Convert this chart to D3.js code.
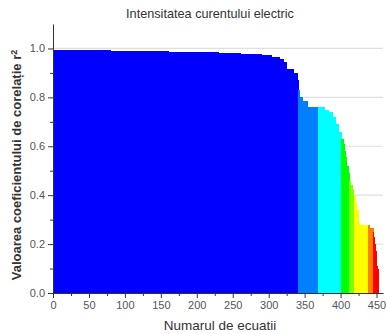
<!DOCTYPE html>
<html>
<head>
<meta charset="utf-8">
<script src="https://cdn.jsdelivr.net/npm/d3@7"></script>
<style>
  body { margin: 0; background: #fff; }
  text { font-family: "Liberation Sans", Arial, sans-serif; }
</style>
</head>
<body>
<div id="chart"></div>
<script>
// r^2 values, as runs of equal value (value, how many equations)
var runValues = [0.995, 0.993, 0.991, 0.989, 0.987, 0.985, 0.982, 0.979, 0.975, 0.965, 0.955, 0.945,
    0.918, 0.898, 0.87, 0.83,
    0.80, 0.785, 0.76,
    0.76, 0.75, 0.74, 0.72, 0.69, 0.66, 0.63,
    0.61, 0.58, 0.556, 0.52, 0.49, 0.46,
    0.44, 0.42, 0.40,
    0.37, 0.34, 0.30, 0.285, 0.278,
    0.265, 0.25, 0.23,
    0.20, 0.17, 0.15, 0.11, 0.10, 0.06];
var runCounts = [40, 40, 40, 40, 40, 30, 30, 30, 13, 11, 6, 5,
    9, 5, 2, 2,
    4, 6, 18,
    6, 6, 5, 5, 4, 4, 2,
    2, 1, 2, 2, 2, 2,
    2, 2, 2,
    2, 2, 1, 1, 14,
    5, 1, 1,
    1, 1, 1, 1, 1, 1];

// colour groups: first equation index of each group and its colour
var groupStarts = [0, 341, 369, 401, 412, 418, 438, 445];
var groupColors = ["#0000ff", "#0080ff", "#00ffff", "#00ff00", "#80ff00", "#ffff00", "#ff8000", "#ff0000"];

var xTicks = [0, 50, 100, 150, 200, 250, 300, 350, 400, 450];
var yTicks = [0.0, 0.2, 0.4, 0.6, 0.8, 1.0];

// expand runs into one record per equation
var data = [];
runValues.forEach(function(v, k) {
    for (var j = 0; j < runCounts[k]; j++) {
        data.push({ i: data.length, value: v });
    }
});
data.forEach(function(d) {
    var g = 0;
    groupStarts.forEach(function(s, k) { if (d.i >= s) g = k; });
    d.color = groupColors[g];
});

var width = 386, height = 334;
var margin = { top: 24, right: 3, bottom: 41, left: 53 };

var svg = d3.select("#chart").append("svg")
    .attr("width", width)
    .attr("height", height);

var x = d3.scaleLinear().domain([0, 459]).range([margin.left, width - margin.right]);
var y = d3.scaleLinear().domain([0, 1.1]).range([height - margin.bottom, margin.top]);

// grid lines
svg.append("g")
    .selectAll("line")
    .data(yTicks.slice(1))
    .enter().append("line")
    .attr("x1", x(0)).attr("x2", x(459))
    .attr("y1", function(d) { return y(d); })
    .attr("y2", function(d) { return y(d); })
    .attr("stroke", "#e0e0e0")
    .attr("stroke-width", 1.2);

// bars (slightly widened so neighbours overlap and no seams show)
svg.append("g")
    .attr("shape-rendering", "crispEdges")
    .selectAll("rect")
    .data(data)
    .enter().append("rect")
    .attr("x", function(d) { return x(d.i); })
    .attr("width", function(d) { return x(d.i + 1) - x(d.i) + 0.8; })
    .attr("y", function(d) { return y(d.value); })
    .attr("height", function(d) { return y(0) - y(d.value); })
    .attr("fill", function(d) { return d.color; });

// minor ticks
var xMinor = d3.range(25, 460, 50);
var yMinor = [0.1, 0.3, 0.5, 0.7, 0.9];

svg.append("g")
    .attr("transform", "translate(0," + y(0) + ")")
    .call(d3.axisBottom(x).tickValues(xTicks).tickFormat(d3.format("d")).tickSize(5).tickPadding(3).tickSizeOuter(0));
svg.append("g")
    .attr("transform", "translate(0," + y(0) + ")")
    .call(d3.axisBottom(x).tickValues(xMinor).tickFormat("").tickSize(3).tickSizeOuter(0))
    .select(".domain").remove();

svg.append("g")
    .attr("transform", "translate(" + x(0) + ",0)")
    .call(d3.axisLeft(y).tickValues(yTicks).tickFormat(d3.format(".1f")).tickSize(5).tickPadding(3).tickSizeOuter(0));
svg.append("g")
    .attr("transform", "translate(" + x(0) + ",0)")
    .call(d3.axisLeft(y).tickValues(yMinor).tickFormat("").tickSize(3).tickSizeOuter(0))
    .select(".domain").remove();

svg.selectAll(".tick line, .domain").attr("stroke", "#333");
svg.selectAll(".tick text")
    .style("font-size", "11px")
    .attr("fill", "#555");

// title
svg.append("text")
    .attr("x", 210)
    .attr("y", 18)
    .attr("text-anchor", "middle")
    .style("font-size", "12.7px")
    .attr("fill", "#333")
    .text("Intensitatea curentului electric");

// x label
svg.append("text")
    .attr("x", 220)
    .attr("y", 330)
    .attr("text-anchor", "middle")
    .style("font-size", "13.5px")
    .attr("fill", "#333")
    .text("Numarul de ecuatii");

// y label
var yl = svg.append("text")
    .attr("transform", "translate(21," + 165 + ") rotate(-90)")
    .attr("text-anchor", "middle")
    .style("font-size", "13px")
    .style("font-weight", "bold")
    .attr("fill", "#333");
yl.append("tspan").text("Valoarea coeficientului de corelație r");
yl.append("tspan").attr("dy", "-0.5em").style("font-size", "9px").text("2");
</script>
</body>
</html>
